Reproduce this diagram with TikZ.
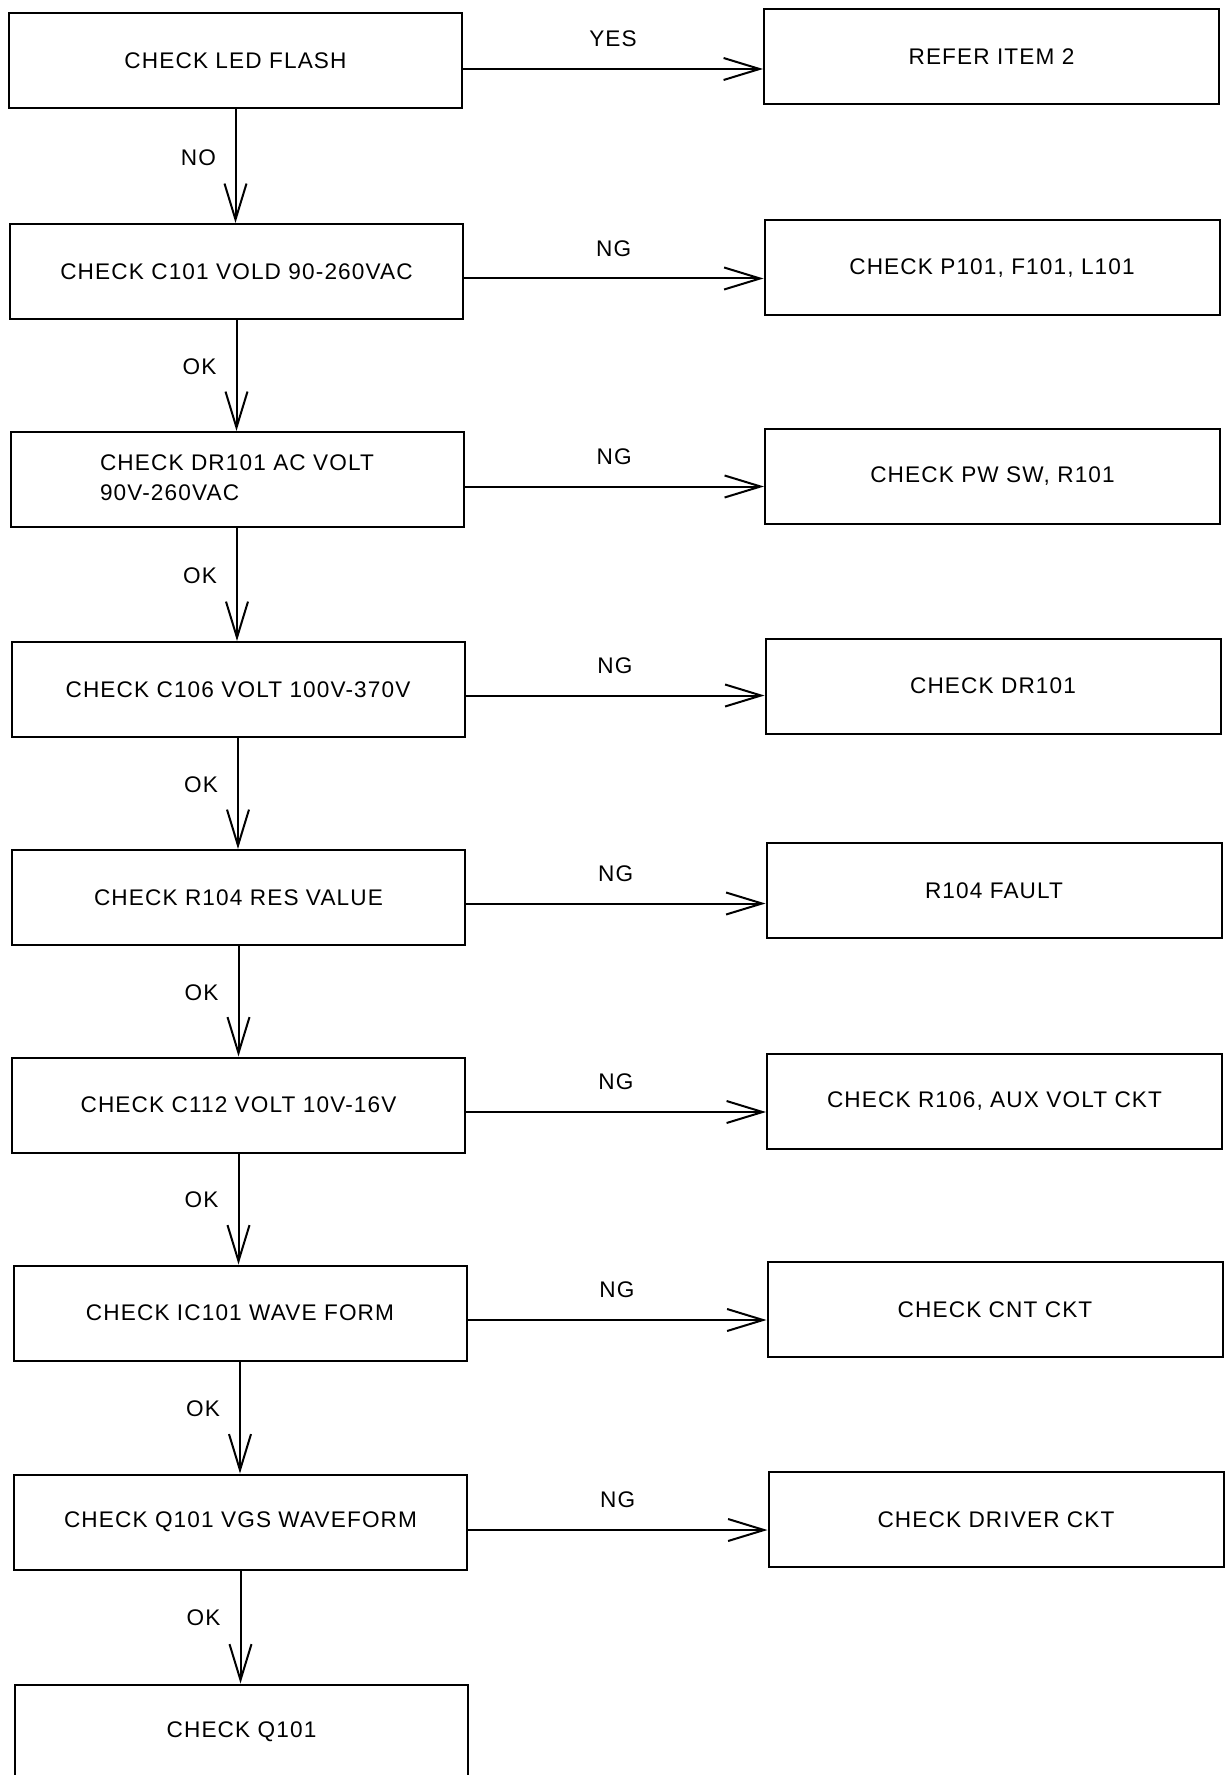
\documentclass[tikz,border=0pt]{standalone}
\usepackage{fontspec}
\setmainfont{Liberation Sans}[LetterSpace=5]
\usetikzlibrary{arrows.meta}
\begin{document}
\begin{tikzpicture}[x=0.5pt,y=-0.5pt,
  box/.style={draw, line width=1pt, minimum width=226.5pt, minimum height=47.5pt,
    inner sep=0pt, font=\fontsize{11.3}{15}\selectfont, align=center},
  rbox/.style={box, minimum width=227.5pt},
  conn/.style={line width=1pt, -{Straight Barb[length=18pt,width=11pt,line width=1pt]}},
  lbl/.style={font=\fontsize{11.3}{13}\selectfont, inner sep=0pt},
  vlbl/.style={lbl, midway, xshift=-18.5pt, yshift=4.5pt},
  hlbl/.style={lbl, midway, yshift=15pt}]
\useasboundingbox (0,0) rectangle (1226,1775);
\clip (0,0) rectangle (1226,1775);
% left column
\node[box] (L1) at (235.5,61) {CHECK LED FLASH};
\node[box] (L2) at (236.5,271.5) {CHECK C101 VOLD 90-260VAC};
\node[box] (L3) at (237,479.5) {\begin{tabular}{@{}l@{}}CHECK DR101 AC VOLT\\90V-260VAC\end{tabular}};
\node[box] (L4) at (238,689.5) {CHECK C106 VOLT 100V-370V};
\node[box] (L5) at (238.5,897.5) {CHECK R104 RES VALUE};
\node[box] (L6) at (238.5,1105) {CHECK C112 VOLT 10V-16V};
\node[box] (L7) at (240,1313) {CHECK IC101 WAVE FORM};
\node[box] (L8) at (240.5,1522) {CHECK Q101 VGS WAVEFORM};
\node[box] (L9) at (241.5,1732) {CHECK Q101};
% right column
\node[rbox] (R1) at (991.5,57) {REFER ITEM 2};
\node[rbox] (R2) at (992,268) {CHECK P101, F101, L101};
\node[rbox] (R3) at (992.5,476.5) {CHECK PW SW, R101};
\node[rbox] (R4) at (993,686) {CHECK DR101};
\node[rbox] (R5) at (994,890.5) {R104 FAULT};
\node[rbox] (R6) at (994.5,1101) {CHECK R106, AUX VOLT CKT};
\node[rbox] (R7) at (995,1309.5) {CHECK CNT CKT};
\node[rbox] (R8) at (996,1519.5) {CHECK DRIVER CKT};
% vertical connectors
\draw[conn] (L1.south) -- (L1.south |- L2.north) node[vlbl] (v1) {NO};
\draw[conn] (L2.south) -- (L2.south |- L3.north) node[vlbl] (v2) {OK};
\draw[conn] (L3.south) -- (L3.south |- L4.north) node[vlbl] (v3) {OK};
\draw[conn] (L4.south) -- (L4.south |- L5.north) node[vlbl] (v4) {OK};
\draw[conn] (L5.south) -- (L5.south |- L6.north) node[vlbl] (v5) {OK};
\draw[conn] (L6.south) -- (L6.south |- L7.north) node[vlbl] (v6) {OK};
\draw[conn] (L7.south) -- (L7.south |- L8.north) node[vlbl] (v7) {OK};
\draw[conn] (L8.south) -- (L8.south |- L9.north) node[vlbl] (v8) {OK};
% horizontal connectors
\draw[conn] ([yshift=-4pt]L1.east) -- ([yshift=-4pt]L1.east -| R1.west) node[hlbl] (h1) {YES};
\draw[conn] ([yshift=-3.5pt]L2.east) -- ([yshift=-3.5pt]L2.east -| R2.west) node[hlbl] (h2) {NG};
\draw[conn] ([yshift=-3.5pt]L3.east) -- ([yshift=-3.5pt]L3.east -| R3.west) node[hlbl] (h3) {NG};
\draw[conn] ([yshift=-3pt]L4.east) -- ([yshift=-3pt]L4.east -| R4.west) node[hlbl] (h4) {NG};
\draw[conn] ([yshift=-3pt]L5.east) -- ([yshift=-3pt]L5.east -| R5.west) node[hlbl] (h5) {NG};
\draw[conn] ([yshift=-3.5pt]L6.east) -- ([yshift=-3.5pt]L6.east -| R6.west) node[hlbl] (h6) {NG};
\draw[conn] ([yshift=-3.5pt]L7.east) -- ([yshift=-3.5pt]L7.east -| R7.west) node[hlbl] (h7) {NG};
\draw[conn] ([yshift=-4pt]L8.east) -- ([yshift=-4pt]L8.east -| R8.west) node[hlbl] (h8) {NG};
\end{tikzpicture}
\end{document}
